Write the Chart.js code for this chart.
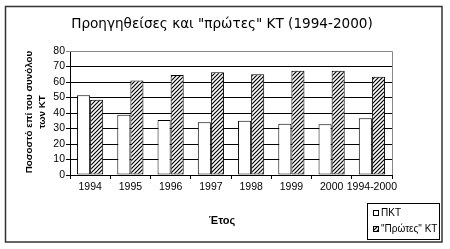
<!DOCTYPE html>
<html><head><meta charset="utf-8">
<script src="https://cdn.jsdelivr.net/npm/chart.js@4.4.0/dist/chart.umd.min.js"></script>
<style>html,body{margin:0;padding:0;background:#fff;}#wrap{width:450px;height:249px;position:relative;}</style>
</head><body><div id="wrap"><canvas id="c" width="450" height="249"></canvas></div>
<script>
const categories = ['1994','1995','1996','1997','1998','1999','2000','1994-2000'];
const pktValues = [51.5, 38.8, 35.5, 34, 35, 33, 32.8, 36.6];
const protesValues = [48.5, 61, 64.5, 66.3, 65, 67.3, 67.3, 63.4];
const seriesLabels = ['ΠΚΤ', '"Πρώτες" ΚΤ'];
const yMin = 0, yMax = 80, yStep = 10;
const chartTitle = 'Προηγηθείσες και "πρώτες" ΚΤ (1994-2000)';
const yTitleLines = ['Ποσοστό επί του συνόλου', 'των ΚΤ'];
const xTitle = 'Έτος';

function makeHatch() {
  const p = document.createElement('canvas');
  p.width = 4; p.height = 4;
  const g = p.getContext('2d');
  g.fillStyle = '#fff'; g.fillRect(0,0,4,4);
  g.strokeStyle = '#000'; g.lineWidth = 1.2;
  g.beginPath();
  g.moveTo(-1,5); g.lineTo(5,-1);
  g.moveTo(-1,1); g.lineTo(1,-1);
  g.moveTo(3,5); g.lineTo(5,3);
  g.stroke();
  return g.createPattern(p, 'repeat');
}
const hatch = makeHatch();

const narrow = '"Liberation Sans Narrow", "Liberation Sans", Arial, sans-serif';

const decor = {
  id: 'decor',
  beforeDatasetsDraw(chart) {
    const {ctx, chartArea: a} = chart;
    ctx.save();
    ctx.strokeStyle = '#888'; ctx.lineWidth = 1;
    ctx.beginPath();
    ctx.moveTo(a.left, a.top + 0.5); ctx.lineTo(a.right + 0.5, a.top + 0.5);
    ctx.lineTo(a.right + 0.5, a.bottom);
    ctx.stroke();
    ctx.restore();
  },
  afterDraw(chart) {
    const {ctx, chartArea: a} = chart;
    ctx.save();
    // outer frame
    ctx.strokeStyle = '#333'; ctx.lineWidth = 1.5;
    ctx.strokeRect(5.5, 6.5, 436.5, 235.5);
    // title
    ctx.fillStyle = '#000';
    ctx.font = '13.6px "DejaVu Sans", sans-serif';
    ctx.textAlign = 'center'; ctx.textBaseline = 'middle';
    ctx.fillText(chartTitle, 222, 24);
    // x title
    ctx.font = 'bold 11px ' + narrow;
    ctx.fillText(xTitle, 222, 221);
    // y title
    ctx.save();
    ctx.translate(29, 112);
    ctx.rotate(-Math.PI/2);
    ctx.font = 'bold 9.8px ' + narrow;
    ctx.fillText(yTitleLines[0], 0, 0);
    ctx.fillText(yTitleLines[1], 0, 13);
    ctx.restore();
    // legend
    ctx.strokeStyle = '#000'; ctx.lineWidth = 1;
    ctx.strokeRect(367.5, 203.5, 72, 36);
    ctx.textAlign = 'left';
    ctx.font = '10px ' + narrow;
    const ys = [213, 229];
    chart.data.datasets.forEach((ds, i) => {
      ctx.fillStyle = ds.backgroundColor;
      ctx.fillRect(373, ys[i]-3, 6, 6);
      ctx.strokeStyle = '#000';
      ctx.strokeRect(373.5, ys[i]-2.5, 5, 5);
      ctx.fillStyle = '#000';
      ctx.fillText(ds.label, 381, ys[i]);
    });
    ctx.restore();
  }
};

new Chart(document.getElementById('c'), {
  type: 'bar',
  data: {
    labels: categories,
    datasets: [
      {label: seriesLabels[0], data: pktValues, backgroundColor: '#fff', borderColor: '#000', borderWidth: 1, borderSkipped: false},
      {label: seriesLabels[1], data: protesValues, backgroundColor: hatch, borderColor: '#000', borderWidth: 1, borderSkipped: false}
    ]
  },
  options: {
    responsive: false,
    devicePixelRatio: 1,
    animation: false,
    layout: {padding: {left: 50, top: 51, right: 58, bottom: 54}},
    datasets: {bar: {categoryPercentage: 0.65, barPercentage: 1}},
    plugins: {legend: {display: false}, title: {display: false}, tooltip: {enabled: false}},
    scales: {
      x: {
        grid: {drawOnChartArea: false, drawTicks: true, tickLength: 4, color: '#000', offset: true},
        border: {color: '#000', width: 1},
        ticks: {color: '#000', font: {family: narrow, size: 10.5}, padding: 2, maxRotation: 0, autoSkip: false},
        afterFit(s) { s.height = 20; }
      },
      y: {
        min: yMin, max: yMax,
        grid: {color: (c) => c.tick && c.tick.value === yMax ? '#888' : '#000', tickLength: 4, drawTicks: true},
        border: {color: '#000', width: 1},
        ticks: {stepSize: yStep, autoSkip: false, color: '#000', font: {family: narrow, size: 10.5}, padding: 1},
        afterFit(s) { s.width = 20; }
      }
    }
  },
  plugins: [decor]
});
</script></body></html>
